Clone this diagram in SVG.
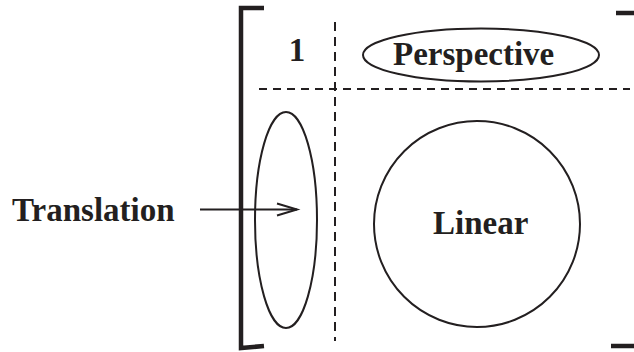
<svg xmlns="http://www.w3.org/2000/svg" width="634" height="352" viewBox="0 0 634 352">
<style>
.lbl{font-family:"Liberation Serif","Times New Roman",serif;font-weight:bold;font-size:33px;fill:#231f20}
.shape{fill:none;stroke:#231f20;stroke-width:2}
.br{fill:none;stroke:#231f20;stroke-width:4.5;stroke-linecap:butt}
.dash{fill:none;stroke:#231f20;stroke-width:2;stroke-dasharray:9 6}
</style>
<rect width="634" height="352" fill="#fff"/>
<g id="matrix">
<path class="br" d="M264,8 H241 V348 L264,346"/>
<path class="br" d="M616,13 H636"/>
<path class="br" d="M611,346 L636,346"/>
<line class="dash" x1="335" y1="22" x2="335" y2="341"/>
<line class="dash" x1="259" y1="89" x2="630" y2="89" style="stroke-dasharray:8 6"/>
</g>
<g id="one">
<text class="lbl" x="297" y="61" text-anchor="middle">1</text>
</g>
<g id="perspective">
<ellipse class="shape" cx="481" cy="55" rx="118" ry="26.5"/>
<text class="lbl" x="393" y="65">Perspective</text>
</g>
<g id="translation-region">
<ellipse class="shape" cx="286" cy="220" rx="31" ry="108"/>
</g>
<g id="linear">
<circle class="shape" cx="477" cy="224" r="103"/>
<text class="lbl" x="433" y="234">Linear</text>
</g>
<g id="translation">
<text class="lbl" x="12" y="221">Translation</text>
</g>
<g id="connectors">
<line class="shape" x1="200" y1="209.5" x2="297" y2="209.5"/>
<path class="shape" d="M277,203.5 L297,209.5 L277,215.5"/>
</g>
</svg>
